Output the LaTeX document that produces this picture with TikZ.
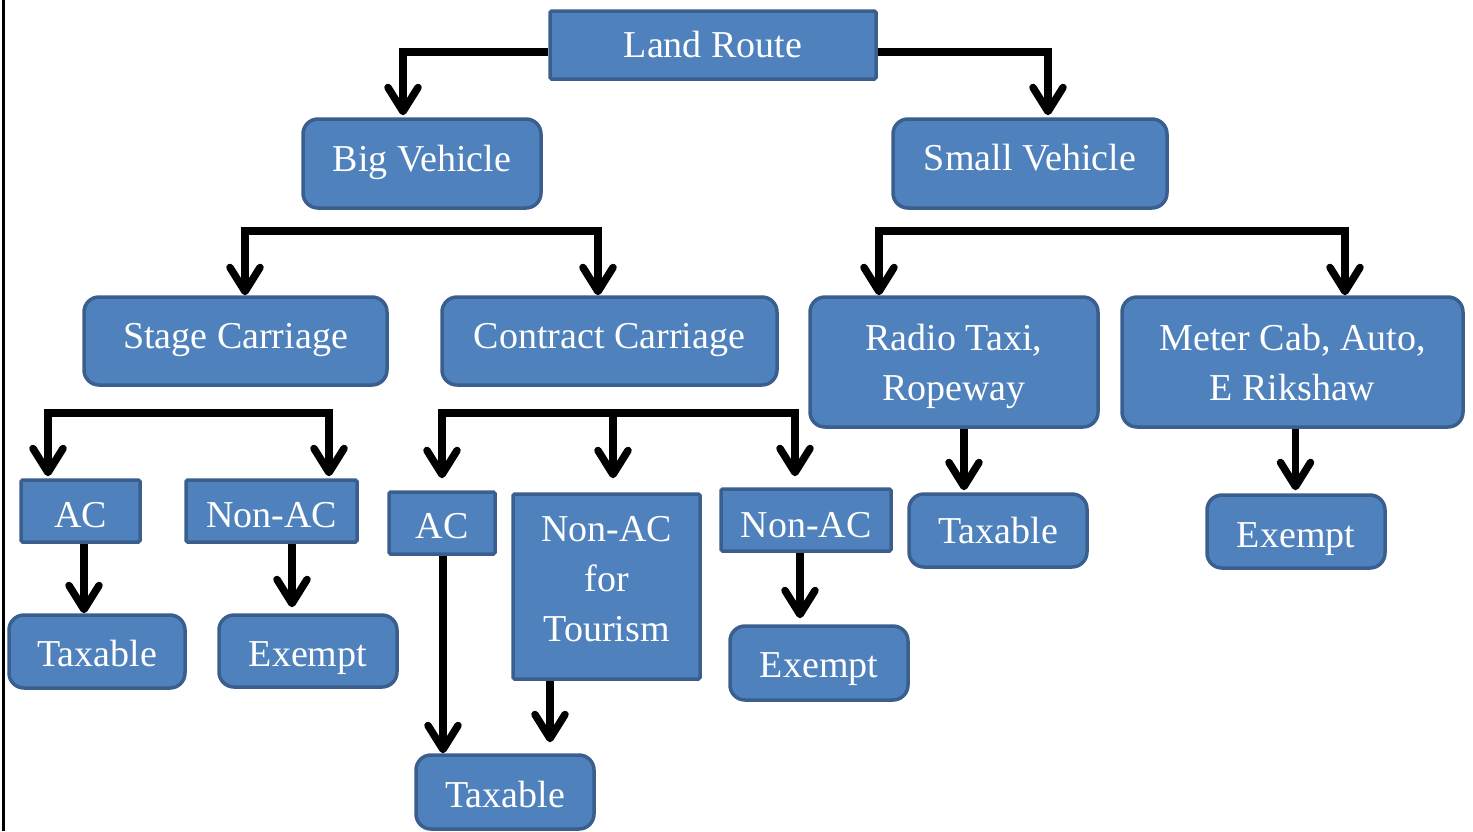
\documentclass[tikz,border=0pt]{standalone}
\usepackage{fontspec}
\setmainfont{Liberation Serif}
\usetikzlibrary{arrows.meta}
\definecolor{boxfill}{HTML}{4F81BD}
\definecolor{boxline}{HTML}{3A5F8E}
\begin{document}
\begin{tikzpicture}[x=1pt,y=-1pt,
  box/.style={draw=boxline, fill=boxfill, line width=3.5pt, text=white,
    inner sep=0pt, align=center, font=\fontsize{38}{50}\selectfont,
    text height=25pt, text depth=0pt},
  sqbox/.style={box, rounded corners=1.5pt},
  rbox/.style={box, rounded corners=15pt},
  conn/.style={line width=7.5pt, -{Straight Barb[length=24pt,width=30pt,round]}},
]
\useasboundingbox (0,0) rectangle (1473,831);
\clip (0,0) rectangle (1473,831);

% page rule on the left
\draw[line width=2.5pt] (3.5,0) -- (3.5,831);

% level 0 and 1
\node[sqbox, minimum width=326pt, minimum height=68pt] (land) at (713,45) {Land Route};
\node[rbox, minimum width=238pt, minimum height=89pt, text height=15pt] (big) at (422,163.5) {Big Vehicle};
\node[rbox, minimum width=274pt, minimum height=89pt, text height=13pt] (small) at (1030,163.5) {Small Vehicle};

% level 2
\node[rbox, minimum width=303pt, minimum height=88pt, text height=14pt] (stage) at (235.5,341) {Stage Carriage};
\node[rbox, minimum width=335pt, minimum height=88pt, text height=14pt] (contract) at (609.5,341) {Contract Carriage};
\node[rbox, minimum width=288pt, minimum height=130pt, text height=, text depth=0pt] (radio) at (954,362) {Radio Taxi,\\Ropeway};
\node[rbox, minimum width=341pt, minimum height=130pt, text height=, text depth=0pt] (meter) at (1292.5,362) {Meter Cab, Auto,\\E Rikshaw};

% level 3
\node[sqbox, minimum width=119pt, minimum height=62pt, text height=32pt] (ac1) at (80.5,511) {AC};
\node[sqbox, minimum width=171pt, minimum height=62pt, text height=32pt] (nonac1) at (271.5,511) {Non-AC};
\node[sqbox, minimum width=106pt, minimum height=62pt, text height=30pt] (ac2) at (442,523) {AC};
\node[sqbox, minimum width=187pt, minimum height=185pt,
  label={[text=white, align=center, font=\fontsize{38}{50}\selectfont, yshift=7pt]center:Non-AC\\for\\Tourism}] (tour) at (606.5,586.5) {};
\node[sqbox, minimum width=170pt, minimum height=62pt, text height=34pt] (nonac2) at (806,520) {Non-AC};
\node[rbox, minimum width=178pt, minimum height=73pt] (tax3) at (998,530.5) {Taxable};
\node[rbox, minimum width=178pt, minimum height=73pt, text height=32pt] (ex3) at (1296,531.5) {Exempt};

% level 4
\node[rbox, minimum width=176pt, minimum height=73pt, text height=29pt] (tax1) at (97,651.5) {Taxable};
\node[rbox, minimum width=178pt, minimum height=72pt, text height=31pt] (ex1) at (308,651) {Exempt};
\node[rbox, minimum width=178pt, minimum height=74pt, text height=29pt] (ex2) at (819,663) {Exempt};
\node[rbox, minimum width=178pt, minimum height=74pt, text height=30pt] (tax2) at (505,792) {Taxable};

% branch bars
\coordinate (bigbar) at (422,231);
\coordinate (smallbar) at (1030,231);
\coordinate (stagebar) at (235.5,413);
\coordinate (contractbar) at (609.5,413);

% connectors
\draw[conn] ([yshift=-7pt]land.west) -| ([xshift=-19pt,yshift=2pt]big.north);
\draw[conn] ([yshift=-7pt]land.east) -| ([xshift=18pt,yshift=2pt]small.north);

\draw[conn] (bigbar) -| ([xshift=9.5pt]stage.north);
\draw[conn] (bigbar) -| ([xshift=-11.5pt]contract.north);
\draw[conn] (smallbar) -| ([xshift=-75pt]radio.north);
\draw[conn] (smallbar) -| ([xshift=52.5pt]meter.north);

\draw[conn] (stagebar) -| ([xshift=-32.5pt,yshift=2pt]ac1.north);
\draw[conn] (stagebar) -| ([xshift=57.5pt,yshift=2pt]nonac1.north);
\draw[conn] (contractbar) -| ([yshift=12pt]ac2.north);
\draw[conn] (contractbar) -| ([xshift=6.5pt,yshift=14pt]tour.north);
\draw[conn] (contractbar) -| ([xshift=-11pt,yshift=11pt]nonac2.north);

\draw[conn] ([xshift=3.5pt]ac1.south) -- ([xshift=3.5pt]ac1.south |- tax1.north);
\draw[conn] ([xshift=20.5pt]nonac1.south) -- ([xshift=20.5pt,yshift=6pt]nonac1.south |- ex1.north);
\draw[conn] ([xshift=10pt]radio.south) -- ([xshift=10pt,yshift=2pt]radio.south |- tax3.north);
\draw[conn] ([xshift=3pt]meter.south) -- ([xshift=3pt,yshift=3pt]meter.south |- ex3.north);
\draw[conn] ([xshift=1pt]ac2.south) -- ([xshift=1pt]ac2.south |- tax2.north);
\draw[conn] ([xshift=-56.5pt]tour.south) -- ([xshift=-56.5pt,yshift=11pt]tour.south |- tax2.north);
\draw[conn] ([xshift=-6pt]nonac2.south) -- ([xshift=-6pt,yshift=6pt]nonac2.south |- ex2.north);
\end{tikzpicture}
\end{document}
